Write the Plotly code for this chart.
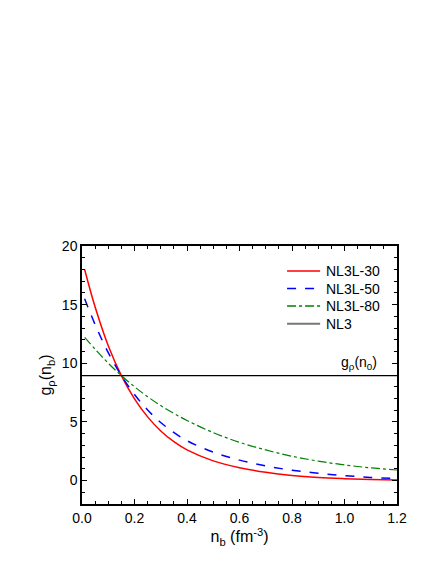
import plotly.graph_objects as go

# densities (fm^-3) and coupling values
n_b = [0.01, 0.05, 0.10, 0.15, 0.20, 0.25, 0.30, 0.35, 0.40, 0.50, 0.60,
       0.70, 0.80, 0.90, 1.00, 1.10, 1.20]
g_nl3l30 = [18.0, 14.8, 11.5, 8.95, 6.97, 5.43, 4.23, 3.32, 2.62, 1.68, 1.10,
            0.70, 0.43, 0.26, 0.16, 0.09, 0.05]
g_nl3l50 = [15.5, 13.3, 10.9, 8.95, 7.34, 6.02, 4.95, 4.10, 3.40, 2.42, 1.74,
            1.25, 0.88, 0.62, 0.42, 0.27, 0.16]
g_nl3l80 = [12.2, 11.2, 10.0, 8.95, 8.0, 7.15, 6.39, 5.72, 5.12, 4.09, 3.26,
            2.61, 2.07, 1.66, 1.33, 1.08, 0.90]
g_nl3 = 8.95
nl3_x = [0.0, 1.2]

labels = ["NL3L-30", "NL3L-50", "NL3L-80", "NL3"]
colors = ["#ff0000", "#0000ff", "#008000", "#777777"]
dashes = ["solid", "dash", "dashdot", "solid"]

FONT = "Liberation Sans, Arial, sans-serif"

fig = go.Figure()

fig.add_trace(go.Scatter(x=n_b, y=g_nl3l30, mode="lines", name=labels[0], showlegend=False,
                         line=dict(color=colors[0], width=1.5, shape="spline")))
fig.add_trace(go.Scatter(x=n_b, y=g_nl3l50, mode="lines", name=labels[1], showlegend=False,
                         line=dict(color=colors[1], width=1.5, dash="dash", shape="spline")))
fig.add_trace(go.Scatter(x=n_b, y=g_nl3l80, mode="lines", name=labels[2], showlegend=False,
                         line=dict(color=colors[2], width=1.2, dash="dashdot", shape="spline")))
fig.add_trace(go.Scatter(x=nl3_x, y=[g_nl3, g_nl3], mode="lines", name=labels[3], showlegend=False,
                         line=dict(color="black", width=1.2)))

# hand-built legend so the row spacing matches the original
leg_y = [0.903, 0.835, 0.767, 0.699]
for lab, col, dsh, yy in zip(labels, colors, dashes, leg_y):
    fig.add_shape(type="line", xref="paper", yref="paper", x0=0.651, x1=0.756, y0=yy, y1=yy,
                  line=dict(color=col, width=2 if lab == "NL3" else 1.5, dash=dsh))
    fig.add_annotation(x=0.768, y=yy, xref="paper", yref="paper", xanchor="left", yanchor="middle",
                       text=lab, showarrow=False,
                       font=dict(family=FONT, size=14, color="black"))

fig.add_annotation(x=1.13, y=g_nl3, xref="x", yref="y", xanchor="right", yanchor="bottom",
                   text="g<sub>ρ</sub>(n<sub>0</sub>)", showarrow=False, yshift=2,
                   font=dict(family=FONT, size=14, color="black"))

axis_common = dict(showline=True, linecolor="black", linewidth=1.5, mirror="ticks",
                   ticks="inside", tickcolor="black", ticklen=5, tickwidth=1,
                   showgrid=False, zeroline=False,
                   tickfont=dict(family=FONT, size=14, color="black"))

fig.update_xaxes(range=[0, 1.2], dtick=0.2, tickformat=".1f",
                 minor=dict(dtick=0.05, ticks="inside", ticklen=3, tickcolor="black"),
                 title=dict(text="n<sub>b</sub> (fm<sup>-3</sup>)", standoff=4,
                            font=dict(family=FONT, size=16, color="black")),
                 **axis_common)
fig.update_yaxes(range=[-2, 20], dtick=5,
                 minor=dict(dtick=1, ticks="inside", ticklen=3, tickcolor="black"),
                 title=dict(text="g<sub>ρ</sub>(n<sub>b</sub>)", standoff=6,
                            font=dict(family=FONT, size=16, color="black")),
                 **axis_common)

# page body adds an 8px offset, so the figure is 8px smaller than the window
fig.update_layout(
    width=428, height=556,
    margin=dict(l=74, r=39, t=238, b=60),
    paper_bgcolor="white", plot_bgcolor="white",
    showlegend=False,
)

fig.write_html("out.html")
